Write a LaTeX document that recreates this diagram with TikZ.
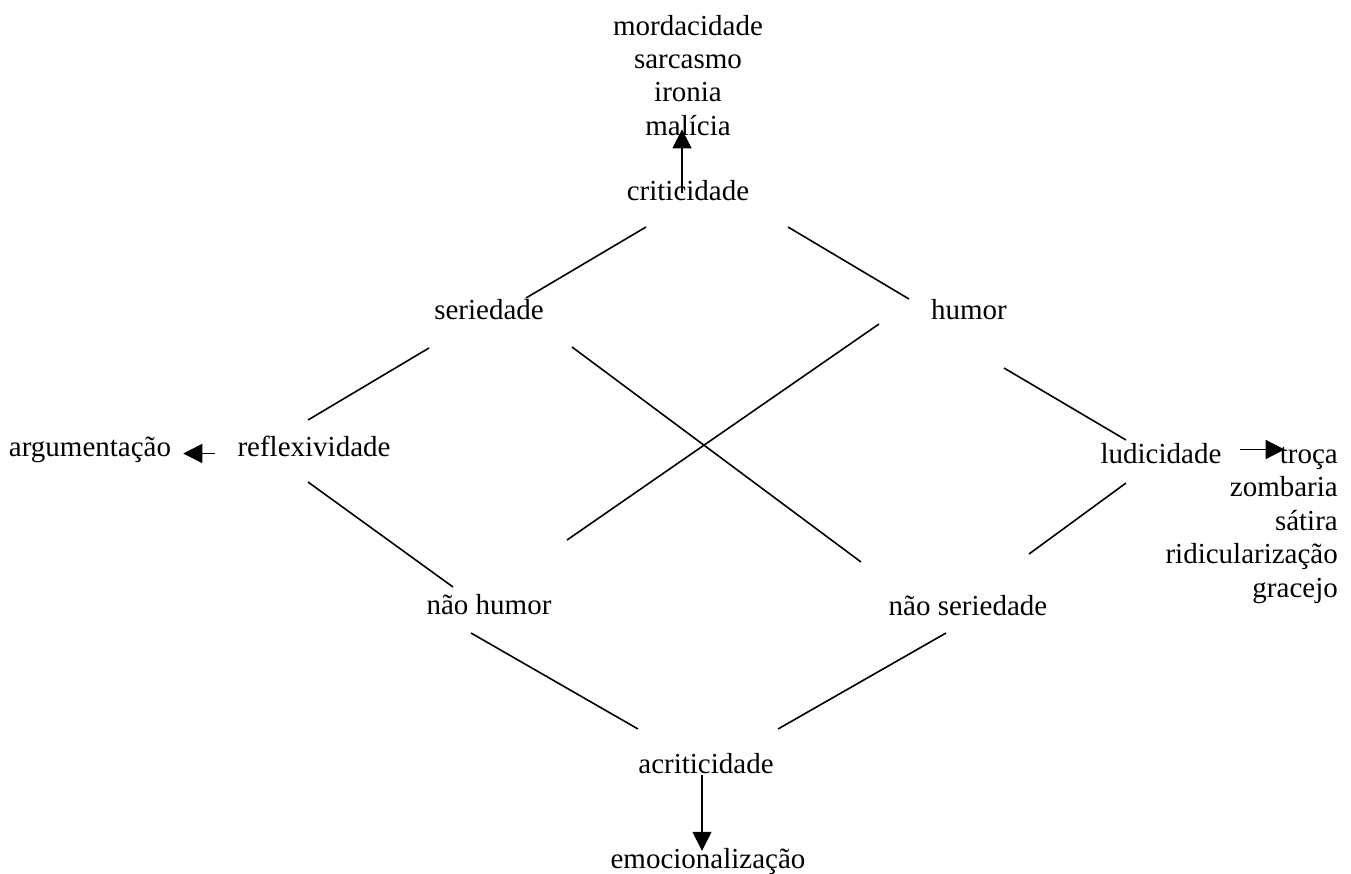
\documentclass[tikz,border=0pt]{standalone}
\usepackage{fontspec}
\setmainfont{Liberation Serif}
\usetikzlibrary{arrows.meta}
\tikzset{
  word/.style={inner sep=0pt, text height=0.7em, text depth=0.2em, anchor=base},
  link/.style={line width=1.6pt},
  push/.style={line width=1.6pt, -{Triangle[length=19pt,width=19pt]}},
}
\begin{document}
\begin{tikzpicture}[x=1pt, y=-1pt, font=\fontsize{29}{33}\selectfont]
  \useasboundingbox (0,0) rectangle (1351,873);

  % the eight poles
  \node[word] (crit) at (688,200) {criticidade};
  \node[word] (ser) at (489,319) {seriedade};
  \node[word] (hum) at (969,319) {humor};
  \node[word] (refl) at (314,456) {reflexividade};
  \node[word] (lud) at (1161,463) {ludicidade};
  \node[word] (nhum) at (489,614) {não humor};
  \node[word] (nser) at (968,615) {não seriedade};
  \node[word] (acrit) at (706,773) {acriticidade};

  % what they lead to
  \node[word] (arg) at (90,456) {argumentação};
  \node[word] (emoc) at (708,868) {emocionalização};
  \foreach \w [count=\i] in {mordacidade,sarcasmo,ironia,malícia}
    \node[word] (crit\i) at (688,{35+33.4*(\i-1)}) {\w};
  \foreach \w [count=\i] in {troça,zombaria,sátira,ridicularização,gracejo}
    \node[word,anchor=base east] (lud\i) at (1338,{463+33.5*(\i-1)}) {\w};

  % line ends
  \coordinate (crit-sw) at (646,227);  \coordinate (ser-ne) at (526,298);
  \coordinate (crit-se) at (788,227);  \coordinate (hum-nw) at (909,299);
  \coordinate (ser-sw) at (429,348);   \coordinate (refl-ne) at (308,420);
  \coordinate (ser-se) at (572,347);   \coordinate (nser-nw) at (861,562);
  \coordinate (hum-sw) at (879,324);   \coordinate (nhum-ne) at (567,540);
  \coordinate (hum-se) at (1004,368);  \coordinate (lud-nw) at (1126,440);
  \coordinate (refl-se) at (308,482);  \coordinate (nhum-nw) at (453,587);
  \coordinate (lud-sw) at (1126,483);  \coordinate (nser-ne) at (1029,554);
  \coordinate (nhum-se) at (471,633);  \coordinate (acrit-nw) at (638,729);
  \coordinate (nser-sw) at (946,633);  \coordinate (acrit-ne) at (778,729);

  \draw[link] (crit-sw) -- (ser-ne);
  \draw[link] (crit-se) -- (hum-nw);
  \draw[link] (ser-sw) -- (refl-ne);
  \draw[link] (ser-se) -- (nser-nw);
  \draw[link] (hum-sw) -- (nhum-ne);
  \draw[link] (hum-se) -- (lud-nw);
  \draw[link] (refl-se) -- (nhum-nw);
  \draw[link] (lud-sw) -- (nser-ne);
  \draw[link] (nhum-se) -- (acrit-nw);
  \draw[link] (nser-sw) -- (acrit-ne);

  \draw[push] ([xshift=-6pt]crit.north) -- ([xshift=-6pt,yshift=8pt]crit4.south);
  \draw[push] ([xshift=-22pt]refl.west) -- ([xshift=12pt]arg.east);
  \draw[push] ([xshift=18pt,yshift=11pt]lud.east) -- ([xshift=5pt,yshift=11pt]lud1.west);
  \draw[push] ([xshift=-4pt,yshift=-4pt]acrit.center) -- ([xshift=-6pt,yshift=10pt]emoc.north);
\end{tikzpicture}
\end{document}
